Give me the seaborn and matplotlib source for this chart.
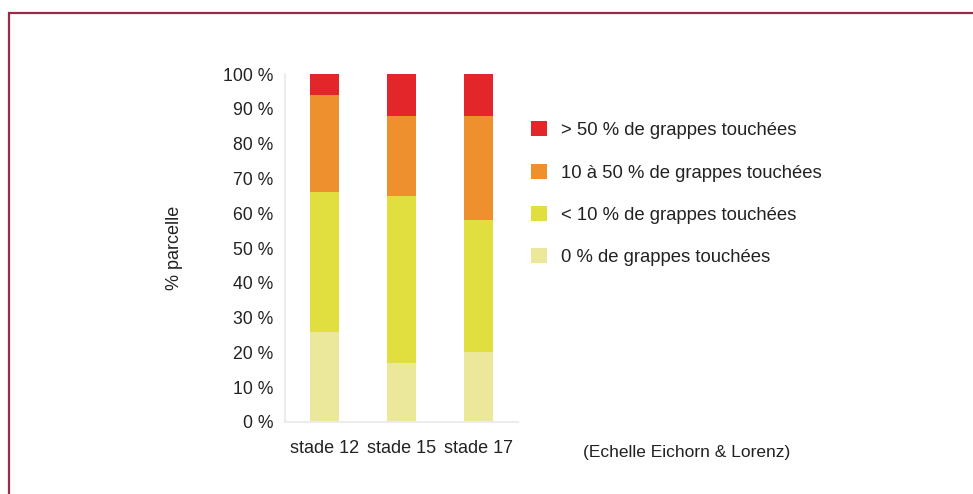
import numpy as np
import pandas as pd
import matplotlib
matplotlib.use("Agg")
import matplotlib.pyplot as plt
from matplotlib.patches import Patch
from matplotlib.lines import Line2D
import seaborn as sns

# Répartition des parcelles selon l'intensité d'attaque sur grappes
stades = ["stade 12", "stade 15", "stade 17"]
zero_pct = [26, 17, 20]        # 0 % de grappes touchées
moins_10 = [40, 48, 38]        # < 10 % de grappes touchées
de_10_a_50 = [28, 23, 30]      # 10 à 50 % de grappes touchées
plus_50 = [6, 12, 12]          # > 50 % de grappes touchées

classes = ["0 % de grappes touchées", "< 10 % de grappes touchées",
           "10 à 50 % de grappes touchées", "> 50 % de grappes touchées"]
couleurs = ["#ebe89b", "#e0df3f", "#ef902f", "#e2262a"]
y_ticks = [0, 10, 20, 30, 40, 50, 60, 70, 80, 90, 100]

sns.set_theme(style="white")
plt.rcParams["font.family"] = ["Liberation Sans", "DejaVu Sans"]
plt.rcParams["text.color"] = "#222222"

fig = plt.figure(figsize=(9.73, 4.94), dpi=100)
ax = fig.add_axes([285 / 973, 1 - 422 / 494, 232.5 / 973, 348 / 494])

df = pd.DataFrame({"stade": stades, "c0": zero_pct, "c1": moins_10,
                   "c2": de_10_a_50, "c3": plus_50})
cumul = df[["c0", "c1", "c2", "c3"]].cumsum(axis=1)

# Barres empilées : on trace les cumuls du plus haut au plus bas
for col, coul in reversed(list(zip(["c0", "c1", "c2", "c3"], couleurs))):
    sns.barplot(x=df["stade"], y=cumul[col], color=coul, width=0.377,
                order=stades, ax=ax, saturation=1, edgecolor="none")

ax.set_xlim(-0.513, 2.513)
ax.set_ylim(0, 100)
ax.set_yticks(y_ticks)
ax.set_yticklabels([f"{v} %" for v in y_ticks])
ax.tick_params(axis="y", length=0, pad=8.5, labelsize=12.7, labelcolor="#222222")
ax.tick_params(axis="x", length=0, pad=13, labelsize=13, labelcolor="#222222")
ax.set_xlabel("")
ax.set_ylabel("% parcelle", fontsize=13, color="#222222")
ax.yaxis.set_label_coords(-0.44, 0.5)

for s in ["top", "right"]:
    ax.spines[s].set_visible(False)
for s in ["left", "bottom"]:
    ax.spines[s].set_color("#ececec")
    ax.spines[s].set_linewidth(1.5)

handles = [Patch(facecolor=c, edgecolor="none") for c in couleurs]
leg = fig.legend(handles[::-1], classes[::-1], loc="upper left",
                 bbox_to_anchor=(531 / 973, 1 - 121.5 / 494), frameon=False,
                 fontsize=13.3, handlelength=0.85, handleheight=0.85,
                 handletextpad=0.75, labelspacing=1.33, borderpad=0,
                 borderaxespad=0)

fig.text(583 / 973, 1 - 452 / 494, "(Echelle Eichorn & Lorenz)",
         fontsize=12.5, va="center", ha="left", color="#222222")

# Cadre bordeaux en haut et à gauche
cadre = Line2D([8.5 / 973, 8.5 / 973, 1.0], [0.0, 1 - 13.5 / 494, 1 - 13.5 / 494],
               transform=fig.transFigure, color="#9a2a47", linewidth=1.6,
               solid_joinstyle="miter")
fig.add_artist(cadre)

fig.savefig("out.png", dpi=100)
